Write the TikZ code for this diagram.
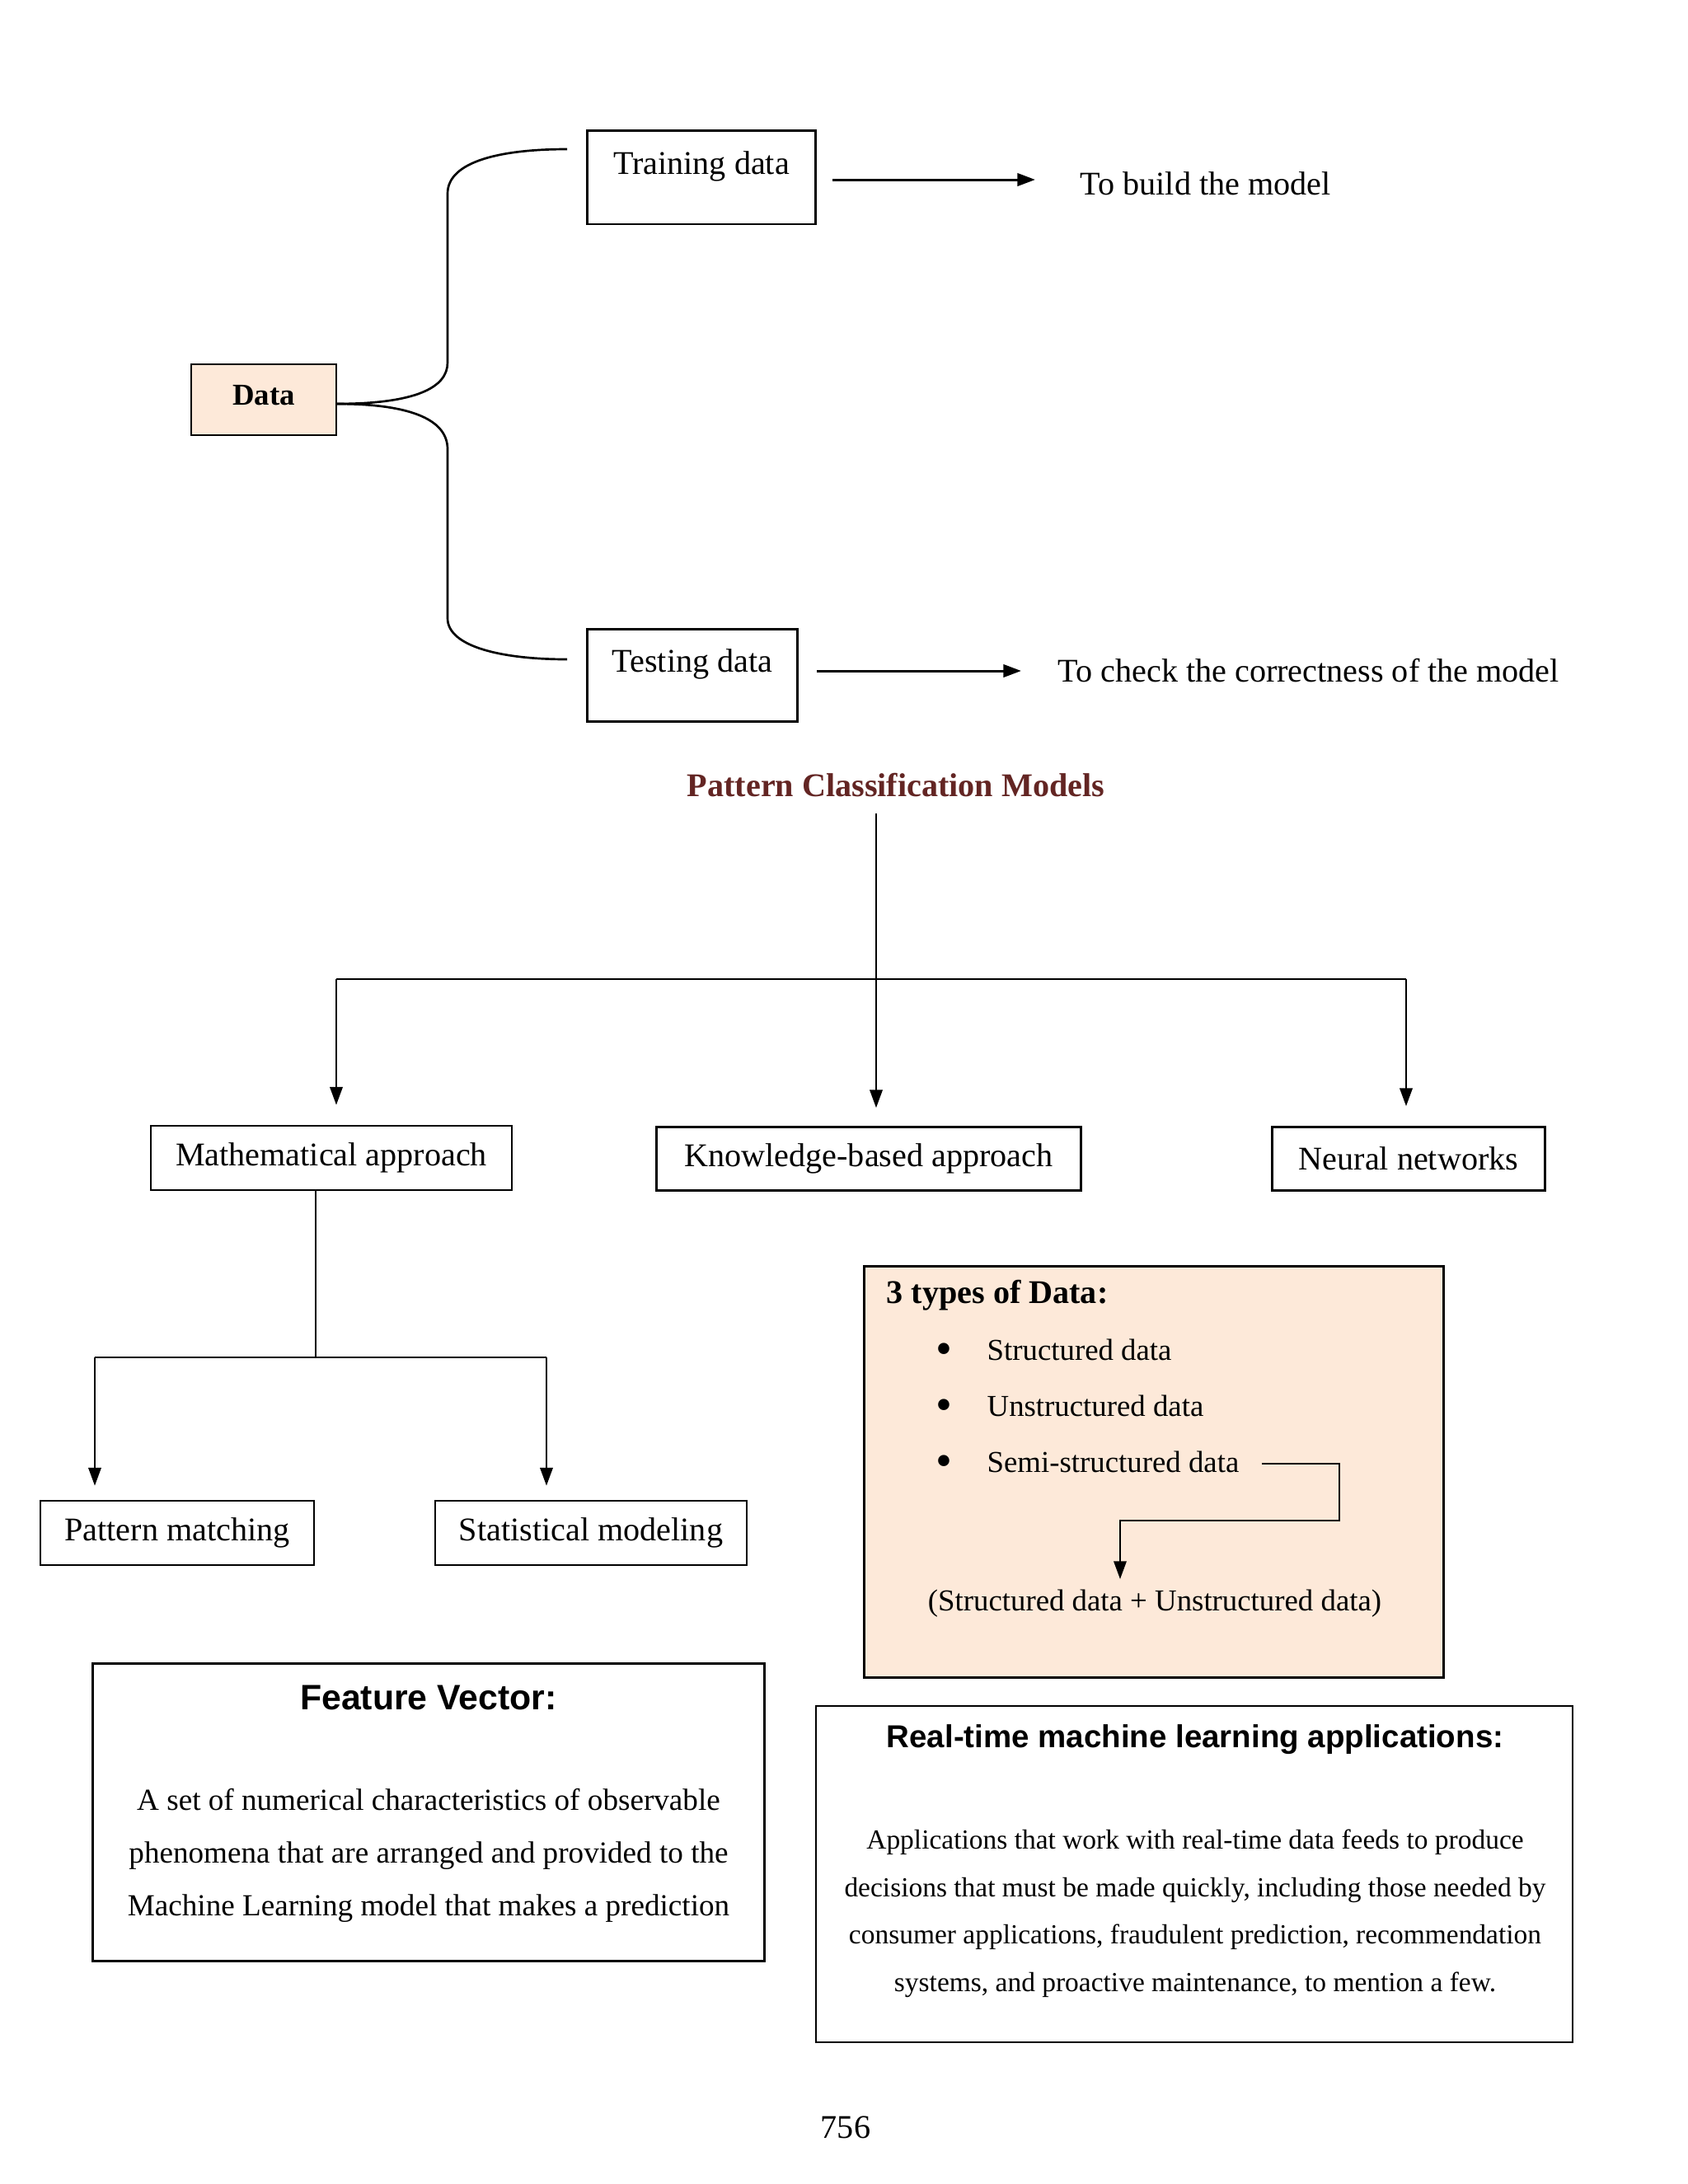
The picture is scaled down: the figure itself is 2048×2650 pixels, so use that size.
\documentclass[tikz,border=0pt]{standalone}
\usepackage{fontspec}
\setmainfont{Liberation Serif}
\newfontfamily\arialfont{Liberation Sans}
\usetikzlibrary{arrows.meta}
\definecolor{peach}{RGB}{253,233,217}
\definecolor{pcmred}{RGB}{99,37,35}
\newcommand\pxu[1]{#1*0.29883pt}
\newcommand\bigbul{{\fontsize{17}{17}\selectfont\textbullet}}
\begin{document}
\begin{tikzpicture}[x=0.29883pt,y=-0.29883pt,
  boxn/.style={draw, line width=0.8pt, inner sep=0pt, font=\fontsize{12}{14}\selectfont},
  arr/.style={-{Triangle[length=6.5pt,width=4.6pt]}, line width=0.65pt},
  ln/.style={line width=0.65pt},
  brace/.style={line width=0.8pt},
  txt/.style={inner sep=0pt, font=\fontsize{12}{14}\selectfont},
  itm/.style={inner sep=0pt, anchor=west, font=\fontsize{11}{13}\selectfont}]
\useasboundingbox (0,0) rectangle (2048,2650);
\fill[white] (0,0) rectangle (2048,2650);

% --- Data split ---
\node[boxn, fill=peach, minimum width=\pxu{176}, minimum height=\pxu{86}, text height=8pt, text depth=4pt, font=\fontsize{11}{13}\selectfont\bfseries] (data) at (320,485) {Data};
\node[boxn, minimum width=\pxu{277}, text height=16pt, text depth=18pt, anchor=north] (train) at (851,157) {Training data};
\node[boxn, minimum width=\pxu{255}, text height=15.5pt, text depth=18pt, anchor=north] (test) at (840,762) {Testing data};
\coordinate (tq) at (688,181);
\coordinate (bq) at (688,800);
\coordinate (dr) at (408,490);
\draw[brace] (dr) .. controls (505,490) and (543,470) .. (543,440) -- (543,235) .. controls (543,195) and (610,181) .. (tq);
\draw[brace] (dr) .. controls (505,490) and (543,512) .. (543,545) -- (543,750) .. controls (543,785) and (610,800) .. (bq);

\node[txt, anchor=west] (build) at (1310,223) {To build the model};
\node[txt, anchor=west] (check) at (1283,814) {To check the correctness of the model};
\coordinate (ts) at ([xshift=\pxu{19}]train.east);
\coordinate (bw) at ([xshift=-\pxu{54}]build.west);
\coordinate (es) at ([xshift=\pxu{22}]test.east);
\coordinate (cw) at ([xshift=-\pxu{44}]check.west);
\draw[arr, line width=0.9pt] (ts |- 0,218) -- (bw |- 0,218);
\draw[arr, line width=0.9pt] (es |- 0,814) -- (cw |- 0,814);

% --- Pattern classification ---
\node[txt, font=\fontsize{12}{14}\selectfont\bfseries, text=pcmred] (pcm) at (1087,953) {Pattern Classification Models};
\node[boxn, minimum width=\pxu{438}, minimum height=\pxu{78}] (ma) at (402,1405) {Mathematical approach};
\node[boxn, minimum width=\pxu{515}, minimum height=\pxu{77}] (kb) at (1054,1406) {Knowledge-based approach};
\node[boxn, minimum width=\pxu{331}, minimum height=\pxu{77}] (nn) at (1709,1406) {Neural networks};
\coordinate (top) at (1063,987);
\coordinate (hl) at (408,1188);
\coordinate (hr) at (1706,1188);
\draw[arr] (top) -- ([yshift=\pxu{22}]top |- kb.north);
\draw[ln] (hl) -- (hr);
\draw[arr] (hl) -- ([yshift=\pxu{24}]hl |- ma.north);
\draw[arr] (hr) -- ([yshift=\pxu{24}]hr |- nn.north);

% --- Mathematical approach subtree ---
\node[boxn, minimum width=\pxu{332}, minimum height=\pxu{78}] (pm) at (215,1860) {Pattern matching};
\node[boxn, minimum width=\pxu{378}, minimum height=\pxu{78}] (sm) at (717,1860) {Statistical modeling};
\coordinate (mj) at (383,1647);
\coordinate (ml) at (115,1647);
\coordinate (mr) at (663,1647);
\draw[ln] (mj |- ma.south) -- (mj);
\draw[ln] (ml) -- (mr);
\draw[arr] (ml) -- ([yshift=\pxu{17}]ml |- pm.north);
\draw[arr] (mr) -- ([yshift=\pxu{17}]mr |- sm.north);

% --- 3 types of data ---
\node[draw, fill=peach, line width=0.8pt, minimum width=\pxu{703}, minimum height=\pxu{499}, inner sep=0pt] (tbox) at (1400,1786) {};
\node[itm, font=\fontsize{12}{14}\selectfont\bfseries] (ttl) at (1075,1572) {3 types of Data:};
\node[itm] (i1) at (1197,1640) {\llap{\raisebox{-1.6pt}{\bigbul}\hspace{12.5pt}}Structured data};
\node[itm] (i2) at (1197,1708) {\llap{\raisebox{-1.6pt}{\bigbul}\hspace{12.5pt}}Unstructured data};
\node[itm] (i3) at (1197,1776) {\llap{\raisebox{-1.6pt}{\bigbul}\hspace{12.5pt}}Semi-structured data};
\node[txt, font=\fontsize{11}{13}\selectfont] (comb) at (1401,1946) {(Structured data + Unstructured data)};
\coordinate (c1) at (1625,1845);
\coordinate (c2) at (1359,1916);
\draw[arr] ([xshift=\pxu{27}]i3.east) -| (c1) -| (c2);

% --- Feature vector ---
\node[draw, line width=0.8pt, minimum width=\pxu{815}, minimum height=\pxu{361}, inner sep=0pt] (fvbox) at (520,2199) {};
\node[txt, font=\arialfont\fontsize{12.8}{15}\selectfont\bfseries] (fvt) at (520,2060) {Feature Vector:};
\node[txt, align=center, font=\fontsize{11.1}{19.1}\selectfont] (fvb) at (520,2251) {A set of numerical characteristics of observable\\phenomena that are arranged and provided to the\\Machine Learning model that makes a prediction};

% --- Real-time ML ---
\node[draw, line width=0.8pt, minimum width=\pxu{918}, minimum height=\pxu{408}, inner sep=0pt] (rtbox) at (1449,2274) {};
\node[txt, font=\arialfont\fontsize{11.5}{14}\selectfont\bfseries] (rtt) at (1450,2111) {Real-time machine learning applications:};
\node[txt, align=center, font=\fontsize{10}{17.2}\selectfont] (rtb) at (1450,2322) {Applications that work with real-time data feeds to produce\\decisions that must be made quickly, including those needed by\\consumer applications, fraudulent prediction, recommendation\\systems, and proactive maintenance, to mention a few.};

\node[txt] (pg) at (1026,2581) {756};
\end{tikzpicture}
\end{document}
